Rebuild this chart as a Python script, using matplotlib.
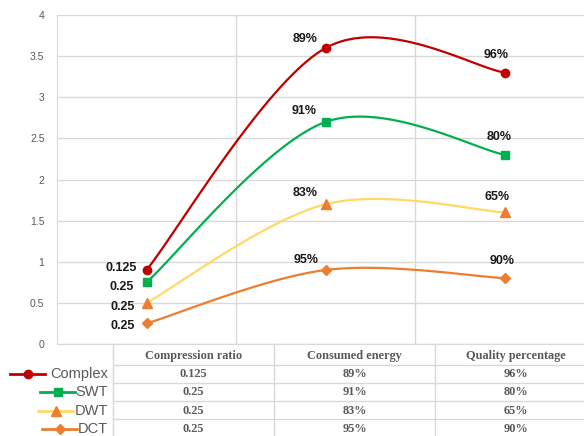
import numpy as np
import matplotlib
matplotlib.use("Agg")
import matplotlib.pyplot as plt
from matplotlib.lines import Line2D

# data
categories = ["Compression ratio", "Consumed energy", "Quality percentage"]
series = ["Complex", "SWT", "DWT", "DCT"]
complex_vals = [0.9, 3.6, 3.3]
swt_vals = [0.75, 2.7, 2.3]
dwt_vals = [0.5, 1.7, 1.6]
dct_vals = [0.25, 0.9, 0.8]
complex_labels = ["0.125", "89%", "96%"]
swt_labels = ["0.25", "91%", "80%"]
dwt_labels = ["0.25", "83%", "65%"]
dct_labels = ["0.25", "95%", "90%"]

values = [complex_vals, swt_vals, dwt_vals, dct_vals]
labels = [complex_labels, swt_labels, dwt_labels, dct_labels]
line_colors = ["#C00000", "#00B050", "#FFD966", "#ED7D31"]
marker_colors = ["#C00000", "#00B050", "#ED7D31", "#ED7D31"]
markers = ["o", "s", "^", "D"]
msizes = [6, 6, 7, 5.5]

# label offsets in pixels (dx, dy up)
label_offsets = [
    [(-10, 2), (-21, 9), (-9, 18)],
    [(-13, -5), (-22, 11), (-6, 18)],
    [(-12, -4), (-21, 11), (-8, 15)],
    [(-12, -3), (-20, 10), (-3, 17)],
]


def smooth(x, y, n=40):
    # catmull-rom style smoothing like spreadsheet smoothed lines
    pts = np.column_stack([x, y]).astype(float)
    ext = np.vstack([pts[0], pts, pts[-1]])
    out = []
    t = np.linspace(0, 1, n)[:, None]
    for i in range(1, len(ext) - 2):
        p0, p1, p2, p3 = ext[i - 1], ext[i], ext[i + 1], ext[i + 2]
        c1 = p1 + (p2 - p0) / 6
        c2 = p2 - (p3 - p1) / 6
        seg = ((1 - t) ** 3) * p1 + 3 * ((1 - t) ** 2) * t * c1 + 3 * (1 - t) * t ** 2 * c2 + t ** 3 * p2
        out.append(seg)
    s = np.vstack(out)
    return s[:, 0], s[:, 1]


W, H = 584, 436
fig = plt.figure(figsize=(W / 100, H / 100), dpi=100)

def fx(px):
    return px / W

def fy(py):
    return 1 - py / H

ax_left, ax_right, ax_top, ax_bot = 57, 594.5, 15, 344
ax = fig.add_axes([fx(ax_left), fy(ax_bot), (ax_right - ax_left) / W, (ax_bot - ax_top) / H])
ax.set_xlim(0.5, 3.5)
ax.set_ylim(0, 4)
ax.set_yticks(np.arange(0, 4.01, 0.5))
ax.set_yticklabels(["0", "0.5", "1", "1.5", "2", "2.5", "3", "3.5", "4"])
ax.set_xticks([])
ax.set_xticks([1.5, 2.5], minor=True)
ax.tick_params(axis="x", which="both", length=0, labelbottom=False)
ax.tick_params(axis="y", length=0, pad=9, labelsize=7.5, labelcolor="#595959")
for lab in ax.get_yticklabels():
    lab.set_fontfamily("Liberation Sans")
ax.grid(axis="y", color="#D9D9D9", linewidth=1)
ax.grid(axis="x", which="minor", color="#D9D9D9", linewidth=1)
ax.set_axisbelow(True)
for sp in ["top", "right"]:
    ax.spines[sp].set_visible(False)
ax.spines["left"].set_color("#D9D9D9")
ax.spines["bottom"].set_color("#D9D9D9")

x = np.arange(1, len(categories) + 1)
for vals, labs, lc, mc, mk, ms, offs in zip(values, labels, line_colors, marker_colors, markers, msizes, label_offsets):
    sx, sy = smooth(x, vals)
    ax.plot(sx, sy, color=lc, linewidth=1.6, zorder=3)
    ax.plot(x, vals, linestyle="none", marker=mk, markersize=ms, color=mc, zorder=4)
    for i, (xi, v, t) in enumerate(zip(x, vals, labs)):
        dx, dy = offs[i]
        ha = "right" if i == 0 else "center"
        ax.annotate(t, (xi, v), xytext=(dx * 0.72, dy * 0.72), textcoords="offset points",
                    ha=ha, va="center", fontsize=9, fontweight="bold", color="#1a1a1a",
                    family="Liberation Sans", zorder=5)

# data table below the chart
grid_c = "#D9D9D9"
row_lines = [344, 365, 382.5, 400.5, 419]
for ry in row_lines[1:]:
    fig.add_artist(Line2D([fx(113), 1], [fy(ry), fy(ry)], color=grid_c, linewidth=1))
for cx in [113, 274, 435]:
    fig.add_artist(Line2D([fx(cx), fx(cx)], [fy(344), 0], color=grid_c, linewidth=1))

col_centers = [193.5, 354.5, 515.5]
row_centers = [355.5, 374, 392, 410.5, 428.5]
tcol = "#595959"
for cc, cat in zip(col_centers, categories):
    fig.text(fx(cc), fy(row_centers[0]), cat, ha="center", va="center", fontsize=8.8,
             fontweight="bold", color=tcol, family="Liberation Serif")
for r, labs in enumerate(labels):
    for cc, t in zip(col_centers, labs):
        fig.text(fx(cc), fy(row_centers[r + 1]), t, ha="center", va="center", fontsize=8.8,
                 fontweight="bold", color=tcol, family="Liberation Serif")

# legend keys in the table's first column
key_x = [(10, 45), (40, 75), (38, 73), (42, 77)]
for r, (name, lc, mc, mk, ms) in enumerate(zip(series, line_colors, marker_colors, markers, msizes)):
    yy = fy(row_centers[r + 1])
    x0, x1 = key_x[r]
    fig.add_artist(Line2D([fx(x0), fx(x1)], [yy, yy], color=lc, linewidth=2))
    fig.add_artist(Line2D([fx((x0 + x1) / 2)], [yy], marker=mk, markersize=ms, color=mc, linestyle="none"))
    fig.text(fx(108), yy, name, ha="right", va="center", fontsize=10.5, color=tcol, family="Liberation Sans")

fig.savefig("out.png", dpi=100)
